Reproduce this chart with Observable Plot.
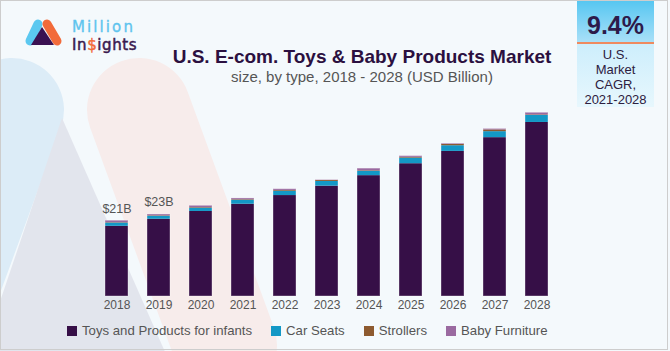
<!DOCTYPE html>
<html><head><meta charset="utf-8">
<script src="https://cdn.jsdelivr.net/npm/d3@7"></script>
<script src="https://cdn.jsdelivr.net/npm/@observablehq/plot@0.6"></script>
<style>
body{margin:0;background:#fff;}
#wrap{position:relative;width:670px;height:351px;background:#f4f9fc;overflow:hidden;font-family:"Liberation Sans",Arial,sans-serif;}
#bg{position:absolute;left:0;top:0;}
#frame{position:absolute;left:0;top:0;width:668px;height:350px;box-sizing:border-box;border:1px solid #cdcdcd;pointer-events:none;}
#title{position:absolute;left:162px;width:400px;top:46px;text-align:center;font-weight:bold;font-size:19px;line-height:22px;color:#2b1040;white-space:nowrap;}
#subtitle{position:absolute;left:162px;width:400px;top:68px;text-align:center;font-size:15px;line-height:18px;color:#555;white-space:nowrap;}
#chart{position:absolute;left:0;top:0;}
#cagr{position:absolute;left:577px;top:0;width:77px;height:107px;}
#cagr .top{height:42px;background:linear-gradient(#55c6f1,#a9e0f8);text-align:center;font-weight:bold;font-size:25px;line-height:42px;color:#2d1a4a;padding-top:4px;box-sizing:border-box;}
#cagr .line{height:2px;background:#ef8a5f;}
#cagr .bot{height:63px;background:linear-gradient(#cdeefc,#e7f7fd);text-align:center;font-size:13px;line-height:15px;color:#2d2040;padding-top:3px;box-sizing:border-box;}
#legend{position:absolute;left:67px;top:323px;display:flex;font-size:13.2px;color:#555;line-height:16px;}
#legend .item{display:flex;align-items:center;margin-right:19px;}
#legend .sw{width:10px;height:10px;margin-right:5px;}
</style></head><body>
<div id="wrap">
<svg id="bg" width="670" height="351">
  <line x1="12" y1="110" x2="-80" y2="360" stroke="#dcecf7" stroke-width="104" stroke-linecap="round"/>
  <polygon points="62,118 -40,420 195,420" fill="#e2e5ed"/>
  <line x1="139" y1="110" x2="225" y2="345" stroke="#f7eceb" stroke-width="104" stroke-linecap="round"/>
  <g>
    <line x1="30" y1="41" x2="38" y2="24" stroke="#5bc8f0" stroke-width="9" stroke-linecap="round"/>
    <line x1="47" y1="24" x2="57" y2="41" stroke="#f26b3a" stroke-width="9" stroke-linecap="round"/>
    <polygon points="42,27 31,45 54,45" fill="#3a1152"/>
  </g>
  <text x="72" y="32" font-family="DejaVu Sans" font-size="15" letter-spacing="2.1" fill="#5ec4ee" stroke="#5ec4ee" stroke-width="0.35">Million</text>
  <text x="72" y="49.6" font-family="DejaVu Sans" font-size="15" letter-spacing="0.6" fill="#3a1a4f" stroke="#3a1a4f" stroke-width="0.5">In<tspan fill="#f26b3a" stroke="#f26b3a">$</tspan>ights</text>
</svg>
<div id="title">U.S. E-com. Toys &amp; Baby Products Market</div>
<div id="subtitle">size, by type, 2018 - 2028 (USD Billion)</div>
<div id="chart"></div>
<div id="cagr"><div class="top">9.4%</div><div class="line"></div><div class="bot">U.S.<br>Market<br>CAGR,<br>2021-2028</div></div>
<div id="legend"></div>
<div id="frame"></div>
</div>
<script>
const years = ["2018","2019","2020","2021","2022","2023","2024","2025","2026","2027","2028"];
const types = ["Toys and Products for infants","Car Seats","Strollers","Baby Furniture"];
const colors = ["#360f47","#1398c6","#8d5a2f","#9a6aa0"];
const toys = [19.4,21.35,23.5,25.5,27.9,30.5,33.4,36.7,40.1,43.9,48.1];
const carSeats = [0.9,0.83,0.92,1.1,1.2,1.3,1.2,1.55,1.57,1.66,1.93];
const strollers = [0.1,0.12,0.15,0.15,0.2,0.28,0.15,0.2,0.36,0.47,0.15];
const furniture = [0.55,0.37,0.5,0.35,0.35,0.1,0.6,0.35,0.2,0.28,0.6];
const labelYears = ["2018","2019"];
const labelTexts = ["$21B","$23B"];

const series = [toys, carSeats, strollers, furniture];
const data = [];
years.forEach((y,i)=>series.forEach((s,j)=>data.push({year:y,type:types[j],value:s[i]})));
const totals = years.map((y,i)=>({year:y,total:series.reduce((a,s)=>a+s[i],0)}));
const labels = labelYears.map((y,k)=>({year:y,total:totals[years.indexOf(y)].total,label:labelTexts[k]}));

const plot = Plot.plot({
  width:670, height:320,
  marginLeft:86, marginRight:103, marginTop:97, marginBottom:24,
  style:{background:"transparent",fontFamily:"'Liberation Sans',Arial,sans-serif",fontSize:"12px",color:"#555",overflow:"visible"},
  x:{domain:years,padding:0.45,tickSize:0,tickPadding:4,label:null},
  y:{domain:[0,55],axis:null},
  color:{domain:types,range:colors},
  marks:[
    Plot.barY(data,{x:"year",y:"value",fill:"type"}),
    Plot.barY(totals,{x:"year",y:"total",fill:"none",stroke:"#fff",strokeOpacity:0.35,strokeWidth:1}),
    Plot.text(labels,{x:"year",y:"total",text:"label",dy:-8,lineAnchor:"bottom",fill:"#555",fontSize:12.5})
  ]
});
document.getElementById("chart").appendChild(plot);

const lg = document.getElementById("legend");
types.forEach((t,i)=>{
  const it=document.createElement("div");it.className="item";
  const sw=document.createElement("div");sw.className="sw";sw.style.background=colors[i];
  const tx=document.createElement("span");tx.textContent=t;
  it.appendChild(sw);it.appendChild(tx);lg.appendChild(it);
});
</script>
</body></html>
